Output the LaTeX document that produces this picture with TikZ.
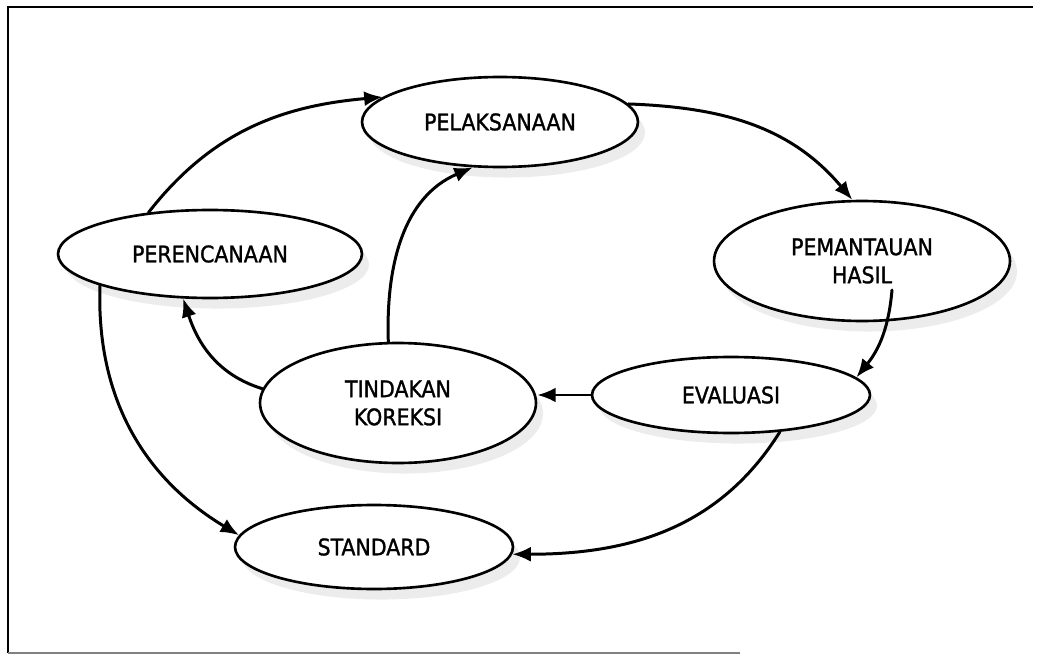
\documentclass[tikz,border=0pt]{standalone}
\usepackage{fontspec}
\newfontfamily\diagfont[FakeBold=1.3]{DejaVu Sans Condensed}
\usetikzlibrary{arrows.meta,shapes.geometric,shadows}
\tikzset{
  stage/.style={ellipse,draw,line width=1.5pt,fill=white,inner sep=0pt,
    align=center,font=\diagfont\fontsize{13}{16}\selectfont,
    drop shadow={shadow xshift=4pt,shadow yshift=-6pt,fill=gray!15,opacity=1}},
  flow/.style={-{Latex[length=10.5pt,width=8.5pt]},line width=1.7pt,line cap=round}
}

\begin{document}
\begin{tikzpicture}[x=0.02cm,y=0.02cm]
  \useasboundingbox (0,0) rectangle (1037,-655);
  % frame
  \draw[line width=1.6pt] (1033,-7) -- (8,-7) -- (8,-653);
  \draw[gray,line width=0.8pt] (8,-653) -- (740,-653);

  \node[stage,minimum width=5.52cm,minimum height=1.8cm] (laksana) at (500,-122) {PELAKSANAAN};
  \node[stage,minimum width=6.08cm,minimum height=1.76cm] (rencana) at (210,-254) {PERENCANAAN};
  \node[stage,minimum width=5.92cm,minimum height=2.4cm] (pantau) at (862,-261) {PEMANTAUAN\\HASIL};
  \node[stage,minimum width=5.52cm,minimum height=2.4cm] (koreksi) at (398,-403) {TINDAKAN\\KOREKSI};
  \node[stage,minimum width=5.56cm,minimum height=1.52cm] (evaluasi) at (731,-395) {EVALUASI};
  \node[stage,minimum width=5.56cm,minimum height=1.68cm] (standard) at (374,-547) {STANDARD};

  \draw[flow] (rencana.146) to[out=52,in=185] (laksana.168);
  \draw[flow] (laksana.8) to[out=-2,in=130] (pantau.99);
  \draw[flow] ([shift={(30,-29)}]pantau.center) to[out=-95,in=51] (evaluasi.8);
  \draw[flow] (evaluasi.west) -- (koreksi.east |- evaluasi.west);
  \draw[flow] (evaluasi.-37) to[out=238,in=0] (standard.-3);
  \draw[flow] (koreksi.174) to[out=163,in=-72] (rencana.239);
  \draw[flow] (koreksi.99) to[out=92,in=203] (laksana.239);
  \draw[flow] (rencana.196) to[out=-92,in=149] (standard.175);
\end{tikzpicture}
\end{document}
